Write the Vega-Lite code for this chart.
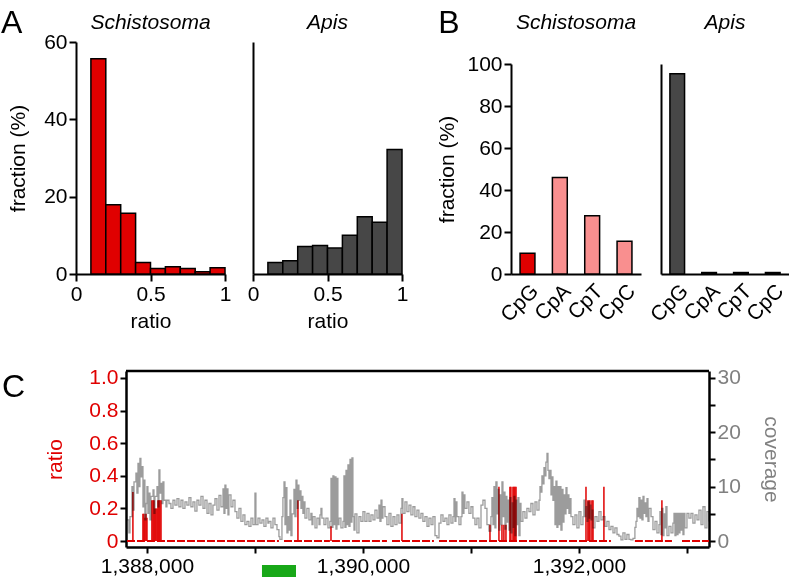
{
"$schema": "https://vega.github.io/schema/vega-lite/v6.json",
"padding": {"left": 1, "top": 6, "right": 0, "bottom": 0},
"config": {
  "font": "Liberation Sans",
  "view": {"stroke": null},
  "axis": {"labelFont": "Liberation Sans", "titleFont": "Liberation Sans", "labelFontSize": 21, "titleFontSize": 21, "titleFontWeight": "normal", "labelColor": "black", "titleColor": "black", "domainColor": "black", "tickColor": "black", "domainWidth": 2, "tickWidth": 2, "tickSize": 7, "labelPadding": 2, "grid": false, "labelFlush": false, "labelOverlap": false},
  "bar": {"stroke": "black", "strokeWidth": 1.5},
  "text": {"font": "Liberation Sans", "fontSize": 32, "color": "black", "align": "left", "baseline": "alphabetic"}
},
"vconcat": [
  {"hconcat": [
    {"hconcat": [
      {"width": 149, "height": 232,
       "layer": [
        {"data": {"values": [
          {"lo": 0.1, "hi": 0.2, "fraction": 55.7}, {"lo": 0.2, "hi": 0.3, "fraction": 17.9}, {"lo": 0.3, "hi": 0.4, "fraction": 15.7},
          {"lo": 0.4, "hi": 0.5, "fraction": 3.0}, {"lo": 0.5, "hi": 0.6, "fraction": 1.4}, {"lo": 0.6, "hi": 0.7, "fraction": 1.9},
          {"lo": 0.7, "hi": 0.8, "fraction": 1.4}, {"lo": 0.8, "hi": 0.9, "fraction": 0.6}, {"lo": 0.9, "hi": 1.0, "fraction": 1.6}]},
         "mark": {"type": "bar", "color": "#e00000"},
         "encoding": {
          "x": {"field": "lo", "type": "quantitative", "scale": {"domain": [0, 1], "nice": false}, "axis": {"values": [0, 0.5, 1], "format": "~g", "title": "ratio", "titlePadding": 6}},
          "x2": {"field": "hi"},
          "y": {"field": "fraction", "type": "quantitative", "scale": {"domain": [0, 60], "nice": false}, "axis": {"values": [0, 20, 40, 60], "title": "fraction (%)", "titlePadding": 15}},
          "y2": {"datum": 0}
         }},
        {"data": {"values": [{"panel": "A"}]},
         "mark": {"type": "text"},
         "encoding": {
          "text": {"field": "panel"},
          "x": {"datum": -0.503, "type": "quantitative"},
          "y": {"datum": 62.33, "type": "quantitative"}
         }},
        {"data": {"values": [{"species": "Schistosoma"}]},
         "mark": {"type": "text", "fontSize": 21, "fontStyle": "italic", "align": "center"},
         "encoding": {
          "text": {"field": "species"},
          "x": {"datum": 0.5, "type": "quantitative"},
          "y": {"datum": 63.36, "type": "quantitative"}
         }}
       ]},
      {"width": 149, "height": 232,
       "layer": [
        {"data": {"values": [
          {"lo": 0.1, "hi": 0.2, "fraction": 3.0}, {"lo": 0.2, "hi": 0.3, "fraction": 3.4}, {"lo": 0.3, "hi": 0.4, "fraction": 7.1},
          {"lo": 0.4, "hi": 0.5, "fraction": 7.4}, {"lo": 0.5, "hi": 0.6, "fraction": 6.7}, {"lo": 0.6, "hi": 0.7, "fraction": 10.0},
          {"lo": 0.7, "hi": 0.8, "fraction": 14.8}, {"lo": 0.8, "hi": 0.9, "fraction": 13.4}, {"lo": 0.9, "hi": 1.0, "fraction": 32.2}]},
         "mark": {"type": "bar", "color": "#474747"},
         "encoding": {
          "x": {"field": "lo", "type": "quantitative", "scale": {"domain": [0, 1], "nice": false}, "axis": {"values": [0, 0.5, 1], "format": "~g", "title": "ratio", "titlePadding": 6}},
          "x2": {"field": "hi"},
          "y": {"field": "fraction", "type": "quantitative", "scale": {"domain": [0, 60], "nice": false}, "axis": {"labels": false, "ticks": false, "title": null}},
          "y2": {"datum": 0}
         }},
        {"data": {"values": [{"species": "Apis"}]},
         "mark": {"type": "text", "fontSize": 21, "fontStyle": "italic", "align": "center"},
         "encoding": {
          "text": {"field": "species"},
          "x": {"datum": 0.5, "type": "quantitative"},
          "y": {"datum": 63.36, "type": "quantitative"}
         }}
       ]}
     ], "spacing": 16},
    {"hconcat": [
      {"width": 130, "height": 232,
       "layer": [
        {"data": {"values": [
          {"dinuc": "CpG", "fraction": 9.9}, {"dinuc": "CpA", "fraction": 46.0}, {"dinuc": "CpT", "fraction": 27.7}, {"dinuc": "CpC", "fraction": 15.6}]},
         "mark": {"type": "bar"},
         "encoding": {
          "x": {"field": "dinuc", "type": "nominal", "sort": ["CpG", "CpA", "CpT", "CpC"], "scale": {"paddingInner": 0.54, "paddingOuter": 0.28}, "axis": {"title": null, "labelAngle": -45, "ticks": false, "labelPadding": 6}},
          "y": {"field": "fraction", "type": "quantitative", "scale": {"domain": [0, 100], "range": [232, 22], "nice": false}, "axis": {"values": [0, 20, 40, 60, 80, 100], "title": "fraction (%)", "titlePadding": 9}},
          "color": {"field": "dinuc", "type": "nominal", "scale": {"domain": ["CpG", "CpA", "CpT", "CpC"], "range": ["#e00000", "#f98f8f", "#f98f8f", "#f98f8f"]}, "legend": null}
         }},
        {"data": {"values": [{"panel": "B"}]},
         "mark": {"type": "text"},
         "encoding": {
          "text": {"field": "panel"},
          "x": {"datum": -0.56, "type": "quantitative", "scale": {"domain": [0, 1], "nice": false, "zero": false}, "axis": null},
          "y": {"datum": 114.76, "type": "quantitative"}
         }},
        {"data": {"values": [{"species": "Schistosoma"}]},
         "mark": {"type": "text", "fontSize": 21, "fontStyle": "italic", "align": "center"},
         "encoding": {
          "text": {"field": "species"},
          "x": {"datum": 0.5, "type": "quantitative", "scale": {"domain": [0, 1], "nice": false, "zero": false}, "axis": null},
          "y": {"datum": 116.67, "type": "quantitative"}
         }}
       ],
       "resolve": {"scale": {"x": "independent"}}},
      {"width": 128, "height": 232,
       "layer": [
        {"data": {"values": [
          {"dinuc": "CpG", "fraction": 95.4}, {"dinuc": "CpA", "fraction": 0.7}, {"dinuc": "CpT", "fraction": 0.7}, {"dinuc": "CpC", "fraction": 0.7}]},
         "mark": {"type": "bar", "color": "#474747"},
         "encoding": {
          "x": {"field": "dinuc", "type": "nominal", "sort": ["CpG", "CpA", "CpT", "CpC"], "scale": {"paddingInner": 0.54, "paddingOuter": 0.28}, "axis": {"title": null, "labelAngle": -45, "ticks": false, "labelPadding": 6}},
          "y": {"field": "fraction", "type": "quantitative", "scale": {"domain": [0, 100], "range": [232, 22], "nice": false}, "axis": {"labels": false, "ticks": false, "title": null}}
         }},
        {"data": {"values": [{"species": "Apis"}]},
         "mark": {"type": "text", "fontSize": 21, "fontStyle": "italic", "align": "center"},
         "encoding": {
          "text": {"field": "species"},
          "x": {"datum": 0.5, "type": "quantitative", "scale": {"domain": [0, 1], "nice": false, "zero": false}, "axis": null},
          "y": {"datum": 116.67, "type": "quantitative"}
         }}
       ],
       "resolve": {"scale": {"x": "independent"}}}
     ], "spacing": 5}
  ], "spacing": 28},
  {"width": 633, "height": 176,
   "layer": [
       {"data": {"values": [
          {"start": 1387815, "end": 1389222}, {"start": 1389269, "end": 1389694}, {"start": 1389713, "end": 1390222},
          {"start": 1390269, "end": 1390657}, {"start": 1390704, "end": 1392296}, {"start": 1392518, "end": 1392861},
          {"start": 1392954, "end": 1393204}]},
        "mark": {"type": "rule", "color": "#e00000", "strokeWidth": 2, "strokeDash": [8, 2]},
        "encoding": {
          "x": {"field": "start", "type": "quantitative", "scale": {"domain": [1387806, 1393204], "range": [50, 633], "nice": false, "zero": false},
                "axis": {"values": [1388000, 1389000, 1390000, 1391000, 1392000, 1393000], "labelExpr": "datum.value % 2000 == 0 ? format(datum.value, ',') : ''", "title": null, "tickSize": 6, "domainWidth": 2.5}},
          "x2": {"field": "end"},
          "y": {"datum": 0, "type": "quantitative", "scale": {"domain": [-0.0368, 1.0429], "nice": false, "zero": false},
                "axis": {"values": [0, 0.2, 0.4, 0.6, 0.8, 1], "labelExpr": "datum.value == 0 ? '0' : format(datum.value, '.1f')", "labelColor": "#e00000", "title": "ratio", "titleColor": "#e00000", "offset": -50, "titlePadding": 23, "tickSize": 6, "domainWidth": 2.5}}
        }},
       {"data": {"values": [
          {"pos": 1387870, "ratio": 0.30},
          {"pos": 1387963, "ratio": 0.167}, {"pos": 1387972, "ratio": 0.167}, {"pos": 1387981, "ratio": 0.143}, {"pos": 1387991, "ratio": 0.167}, {"pos": 1388000, "ratio": 0.143},
          {"pos": 1388046, "ratio": 0.25}, {"pos": 1388056, "ratio": 0.25}, {"pos": 1388065, "ratio": 0.25}, {"pos": 1388074, "ratio": 0.2}, {"pos": 1388083, "ratio": 0.2},
          {"pos": 1388093, "ratio": 0.2}, {"pos": 1388102, "ratio": 0.25}, {"pos": 1388111, "ratio": 0.25}, {"pos": 1388120, "ratio": 0.25}, {"pos": 1388130, "ratio": 0.25},
          {"pos": 1389398, "ratio": 0.25},
          {"pos": 1389704, "ratio": 0.09},
          {"pos": 1390361, "ratio": 0.167},
          {"pos": 1391176, "ratio": 0.1},
          {"pos": 1391259, "ratio": 0.333},
          {"pos": 1391287, "ratio": 0.1}, {"pos": 1391305, "ratio": 0.1}, {"pos": 1391324, "ratio": 0.1},
          {"pos": 1391361, "ratio": 0.333}, {"pos": 1391370, "ratio": 0.333}, {"pos": 1391389, "ratio": 0.333}, {"pos": 1391398, "ratio": 0.333}, {"pos": 1391407, "ratio": 0.333}, {"pos": 1391417, "ratio": 0.333},
          {"pos": 1392065, "ratio": 0.333},
          {"pos": 1392083, "ratio": 0.25}, {"pos": 1392093, "ratio": 0.25}, {"pos": 1392102, "ratio": 0.25}, {"pos": 1392120, "ratio": 0.25}, {"pos": 1392130, "ratio": 0.25},
          {"pos": 1392231, "ratio": 0.333},
          {"pos": 1392768, "ratio": 0.25}]},
        "mark": {"type": "rule", "color": "#e00000", "strokeWidth": 1.5},
        "encoding": {
          "x": {"field": "pos", "type": "quantitative"},
          "y": {"field": "ratio", "type": "quantitative", "scale": {"domain": [-0.0368, 1.0429], "nice": false, "zero": false}, "axis": null},
          "y2": {"datum": 0}
        }},
       {"data": {"values": [{"start": 1389065, "end": 1389380, "lo": -0.221, "hi": -0.147}]},
        "mark": {"type": "rect", "color": "#18a818", "clip": false},
        "encoding": {
          "x": {"field": "start", "type": "quantitative"},
          "x2": {"field": "end"},
          "y": {"field": "hi", "type": "quantitative", "scale": {"domain": [-0.0368, 1.0429], "nice": false, "zero": false}, "axis": null},
          "y2": {"field": "lo"}
        }},
       {"data": {"values": [{"start": 1387806, "end": 1393204, "top": 1.0429}]},
        "mark": {"type": "rule", "color": "black", "strokeWidth": 2.5},
        "encoding": {
          "x": {"field": "start", "type": "quantitative"},
          "x2": {"field": "end"},
          "y": {"field": "top", "type": "quantitative", "scale": {"domain": [-0.0368, 1.0429], "nice": false, "zero": false}, "axis": null}
        }},
       {"data": {"values": [{"panel": "C"}]},
        "mark": {"type": "text"},
        "encoding": {
          "text": {"field": "panel"},
          "x": {"datum": 1386658, "type": "quantitative"},
          "y": {"datum": 0.8834, "type": "quantitative", "scale": {"domain": [-0.0368, 1.0429], "nice": false, "zero": false}, "axis": null}
        }},
     {"data": {"values": [
        {"pos":1387815,"cov":3.9},{"pos":1387833,"cov":1.5},{"pos":1387843,"cov":4.5},{"pos":1387861,"cov":10.0},{"pos":1387870,"cov":5.7},{"pos":1387880,"cov":10.9},{"pos":1387898,"cov":12.5},{"pos":1387907,"cov":8.8},{"pos":1387917,"cov":14.3},{"pos":1387926,"cov":10.0},{"pos":1387935,"cov":15.2},{"pos":1387944,"cov":11.8},{"pos":1387954,"cov":13.7},{"pos":1387963,"cov":6.3},{"pos":1387972,"cov":11.2},{"pos":1387981,"cov":3.9},{"pos":1387991,"cov":6.9},
        {"pos":1388000,"cov":10.0},{"pos":1388009,"cov":5.1},{"pos":1388019,"cov":8.8},{"pos":1388028,"cov":3.9},{"pos":1388037,"cov":8.2},{"pos":1388056,"cov":9.4},{"pos":1388065,"cov":5.1},{"pos":1388074,"cov":8.2},{"pos":1388093,"cov":10.0},{"pos":1388102,"cov":6.3},{"pos":1388111,"cov":13.1},{"pos":1388120,"cov":8.8},{"pos":1388130,"cov":10.6},{"pos":1388139,"cov":6.9},{"pos":1388148,"cov":10.9},{"pos":1388157,"cov":7.5},{"pos":1388176,"cov":6.3},{"pos":1388185,"cov":7.5},
        {"pos":1388204,"cov":6.9},{"pos":1388222,"cov":6.0},{"pos":1388241,"cov":7.5},{"pos":1388259,"cov":6.6},{"pos":1388278,"cov":7.8},{"pos":1388296,"cov":6.3},{"pos":1388315,"cov":7.5},{"pos":1388333,"cov":6.0},{"pos":1388352,"cov":7.2},{"pos":1388370,"cov":6.6},{"pos":1388389,"cov":8.0},{"pos":1388407,"cov":6.3},{"pos":1388426,"cov":7.2},{"pos":1388444,"cov":5.5},{"pos":1388463,"cov":7.5},{"pos":1388481,"cov":6.6},
        {"pos":1388500,"cov":8.2},{"pos":1388519,"cov":6.0},{"pos":1388537,"cov":7.5},{"pos":1388556,"cov":5.1},{"pos":1388574,"cov":6.9},{"pos":1388593,"cov":4.8},{"pos":1388611,"cov":6.6},{"pos":1388630,"cov":7.8},{"pos":1388648,"cov":5.7},{"pos":1388667,"cov":8.4},{"pos":1388685,"cov":6.3},{"pos":1388704,"cov":9.6},{"pos":1388713,"cov":5.1},{"pos":1388722,"cov":10.3},{"pos":1388731,"cov":6.0},{"pos":1388741,"cov":9.6},{"pos":1388750,"cov":4.8},{"pos":1388759,"cov":8.5},
        {"pos":1388778,"cov":6.3},{"pos":1388796,"cov":7.5},{"pos":1388815,"cov":5.4},{"pos":1388833,"cov":4.2},{"pos":1388852,"cov":6.0},{"pos":1388870,"cov":3.6},{"pos":1388889,"cov":4.8},{"pos":1388907,"cov":3.0},{"pos":1388926,"cov":3.6},{"pos":1388944,"cov":2.7},{"pos":1388963,"cov":4.2},{"pos":1388981,"cov":3.0},
        {"pos":1389000,"cov":8.8},{"pos":1389009,"cov":3.0},{"pos":1389028,"cov":4.2},{"pos":1389046,"cov":3.3},{"pos":1389065,"cov":3.9},{"pos":1389083,"cov":2.7},{"pos":1389102,"cov":4.2},{"pos":1389120,"cov":3.3},{"pos":1389130,"cov":3.6},{"pos":1389148,"cov":2.4},{"pos":1389167,"cov":4.2},{"pos":1389185,"cov":3.0},{"pos":1389204,"cov":2.1},{"pos":1389222,"cov":0.8},{"pos":1389231,"cov":0.3},{"pos":1389250,"cov":4.5},{"pos":1389259,"cov":8.0},{"pos":1389269,"cov":10.9},{"pos":1389278,"cov":3.0},{"pos":1389287,"cov":9.8},{"pos":1389296,"cov":1.5},
        {"pos":1389306,"cov":4.5},{"pos":1389315,"cov":2.0},{"pos":1389324,"cov":7.5},{"pos":1389333,"cov":1.0},{"pos":1389343,"cov":5.0},{"pos":1389361,"cov":9.5},{"pos":1389370,"cov":4.5},{"pos":1389380,"cov":11.2},{"pos":1389389,"cov":6.0},{"pos":1389398,"cov":10.3},{"pos":1389407,"cov":7.5},{"pos":1389417,"cov":9.2},{"pos":1389426,"cov":6.0},{"pos":1389435,"cov":8.2},{"pos":1389444,"cov":5.1},{"pos":1389454,"cov":7.2},{"pos":1389463,"cov":4.2},{"pos":1389481,"cov":6.0},
        {"pos":1389500,"cov":3.9},{"pos":1389518,"cov":5.1},{"pos":1389528,"cov":3.0},{"pos":1389537,"cov":4.5},{"pos":1389556,"cov":2.4},{"pos":1389574,"cov":4.2},{"pos":1389593,"cov":3.0},{"pos":1389602,"cov":4.8},{"pos":1389611,"cov":6.0},{"pos":1389620,"cov":4.2},{"pos":1389639,"cov":3.0},{"pos":1389657,"cov":4.2},{"pos":1389676,"cov":2.4},{"pos":1389694,"cov":3.6},
        {"pos":1389704,"cov":11.5},{"pos":1389713,"cov":2.5},{"pos":1389722,"cov":12.0},{"pos":1389731,"cov":3.0},{"pos":1389741,"cov":11.8},{"pos":1389750,"cov":2.2},{"pos":1389759,"cov":11.5},{"pos":1389768,"cov":3.0},{"pos":1389778,"cov":4.2},{"pos":1389796,"cov":2.4},{"pos":1389815,"cov":3.6},{"pos":1389824,"cov":12.0},{"pos":1389833,"cov":2.5},{"pos":1389843,"cov":13.0},{"pos":1389852,"cov":3.0},{"pos":1389861,"cov":14.0},{"pos":1389870,"cov":2.7},{"pos":1389880,"cov":15.0},{"pos":1389889,"cov":3.5},{"pos":1389898,"cov":15.3},{"pos":1389907,"cov":4.5},{"pos":1389917,"cov":2.0},{"pos":1389926,"cov":5.0},{"pos":1389944,"cov":1.5},{"pos":1389963,"cov":4.5},{"pos":1389981,"cov":3.6},
        {"pos":1390000,"cov":5.4},{"pos":1390018,"cov":3.6},{"pos":1390037,"cov":5.1},{"pos":1390056,"cov":3.6},{"pos":1390074,"cov":4.8},{"pos":1390093,"cov":3.9},{"pos":1390111,"cov":5.7},{"pos":1390130,"cov":4.2},{"pos":1390148,"cov":6.6},{"pos":1390157,"cov":3.6},{"pos":1390167,"cov":7.5},{"pos":1390176,"cov":4.2},{"pos":1390185,"cov":6.3},{"pos":1390204,"cov":4.5},{"pos":1390222,"cov":3.0},{"pos":1390241,"cov":5.1},{"pos":1390259,"cov":2.7},{"pos":1390278,"cov":4.5},{"pos":1390296,"cov":3.0},{"pos":1390315,"cov":4.8},{"pos":1390333,"cov":3.3},{"pos":1390352,"cov":6.0},{"pos":1390361,"cov":7.8},{"pos":1390370,"cov":5.1},{"pos":1390389,"cov":7.2},{"pos":1390407,"cov":5.4},{"pos":1390426,"cov":6.6},{"pos":1390444,"cov":4.8},{"pos":1390463,"cov":6.3},{"pos":1390481,"cov":4.5},
        {"pos":1390500,"cov":5.7},{"pos":1390518,"cov":4.2},{"pos":1390537,"cov":5.1},{"pos":1390555,"cov":3.6},{"pos":1390574,"cov":4.5},{"pos":1390593,"cov":2.7},{"pos":1390611,"cov":4.2},{"pos":1390630,"cov":3.0},{"pos":1390648,"cov":4.5},{"pos":1390667,"cov":1.0},{"pos":1390685,"cov":0.6},{"pos":1390704,"cov":3.3},{"pos":1390722,"cov":4.8},{"pos":1390741,"cov":3.6},{"pos":1390759,"cov":4.2},{"pos":1390778,"cov":3.0},{"pos":1390796,"cov":4.8},{"pos":1390815,"cov":3.3},{"pos":1390833,"cov":4.5},{"pos":1390843,"cov":7.8},{"pos":1390852,"cov":3.6},{"pos":1390861,"cov":7.2},{"pos":1390870,"cov":4.5},{"pos":1390889,"cov":3.0},{"pos":1390907,"cov":4.5},{"pos":1390917,"cov":9.0},{"pos":1390926,"cov":5.1},{"pos":1390935,"cov":8.5},{"pos":1390944,"cov":6.0},{"pos":1390963,"cov":7.2},{"pos":1390981,"cov":5.1},
        {"pos":1391000,"cov":6.3},{"pos":1391018,"cov":4.2},{"pos":1391037,"cov":3.0},{"pos":1391055,"cov":4.2},{"pos":1391074,"cov":2.4},{"pos":1391093,"cov":6.6},{"pos":1391111,"cov":7.5},{"pos":1391130,"cov":6.0},{"pos":1391148,"cov":3.0},{"pos":1391167,"cov":1.8},{"pos":1391185,"cov":4.5},{"pos":1391194,"cov":8.0},{"pos":1391204,"cov":3.0},{"pos":1391213,"cov":10.0},{"pos":1391222,"cov":2.4},{"pos":1391231,"cov":10.9},{"pos":1391241,"cov":5.0},{"pos":1391250,"cov":9.5},{"pos":1391259,"cov":2.0},{"pos":1391268,"cov":8.5},{"pos":1391278,"cov":3.0},{"pos":1391287,"cov":10.9},{"pos":1391296,"cov":4.5},{"pos":1391305,"cov":9.0},{"pos":1391315,"cov":2.2},{"pos":1391324,"cov":8.2},{"pos":1391333,"cov":3.5},{"pos":1391342,"cov":7.5},{"pos":1391352,"cov":2.0},{"pos":1391361,"cov":8.0},{"pos":1391370,"cov":1.5},{"pos":1391380,"cov":7.0},{"pos":1391389,"cov":2.5},{"pos":1391398,"cov":8.2},{"pos":1391407,"cov":1.0},{"pos":1391417,"cov":7.5},{"pos":1391426,"cov":3.0},{"pos":1391435,"cov":8.0},{"pos":1391444,"cov":1.0},{"pos":1391454,"cov":6.9},{"pos":1391463,"cov":3.6},{"pos":1391481,"cov":5.4},
        {"pos":1391500,"cov":4.2},{"pos":1391518,"cov":6.0},{"pos":1391537,"cov":5.4},{"pos":1391555,"cov":6.9},{"pos":1391574,"cov":4.8},{"pos":1391593,"cov":7.2},{"pos":1391611,"cov":5.7},{"pos":1391630,"cov":7.5},{"pos":1391639,"cov":10.0},{"pos":1391648,"cov":9.0},{"pos":1391657,"cov":12.0},{"pos":1391667,"cov":10.5},{"pos":1391676,"cov":13.5},{"pos":1391685,"cov":12.0},{"pos":1391694,"cov":14.5},{"pos":1391704,"cov":16.1},{"pos":1391713,"cov":13.0},{"pos":1391722,"cov":11.5},{"pos":1391731,"cov":13.0},{"pos":1391741,"cov":8.5},{"pos":1391750,"cov":11.8},{"pos":1391759,"cov":7.5},{"pos":1391768,"cov":10.0},{"pos":1391778,"cov":3.0},{"pos":1391787,"cov":11.0},{"pos":1391796,"cov":2.5},{"pos":1391805,"cov":10.0},{"pos":1391815,"cov":3.0},{"pos":1391824,"cov":10.0},{"pos":1391833,"cov":2.0},{"pos":1391843,"cov":9.5},{"pos":1391852,"cov":3.5},{"pos":1391861,"cov":8.5},{"pos":1391870,"cov":5.0},{"pos":1391880,"cov":9.8},{"pos":1391889,"cov":6.0},{"pos":1391898,"cov":8.5},{"pos":1391907,"cov":5.1},{"pos":1391917,"cov":7.8},{"pos":1391926,"cov":4.5},{"pos":1391944,"cov":3.0},{"pos":1391963,"cov":4.8},{"pos":1391981,"cov":2.4},
        {"pos":1392000,"cov":5.4},{"pos":1392018,"cov":3.0},{"pos":1392037,"cov":4.5},{"pos":1392046,"cov":7.5},{"pos":1392055,"cov":4.5},{"pos":1392065,"cov":6.3},{"pos":1392074,"cov":3.6},{"pos":1392083,"cov":7.2},{"pos":1392093,"cov":4.2},{"pos":1392102,"cov":6.6},{"pos":1392111,"cov":3.9},{"pos":1392120,"cov":5.7},{"pos":1392130,"cov":2.4},{"pos":1392148,"cov":4.5},{"pos":1392167,"cov":3.6},{"pos":1392185,"cov":5.4},{"pos":1392204,"cov":3.9},{"pos":1392222,"cov":4.5},{"pos":1392241,"cov":2.7},{"pos":1392259,"cov":3.6},{"pos":1392278,"cov":2.1},{"pos":1392296,"cov":2.7},{"pos":1392315,"cov":1.5},{"pos":1392333,"cov":2.4},{"pos":1392352,"cov":1.2},{"pos":1392370,"cov":0.9},{"pos":1392389,"cov":0.2},{"pos":1392407,"cov":1.5},{"pos":1392426,"cov":0.3},{"pos":1392444,"cov":1.2},{"pos":1392463,"cov":0.3},{"pos":1392481,"cov":0.2},
        {"pos":1392500,"cov":0.5},{"pos":1392518,"cov":2.5},{"pos":1392528,"cov":3.6},{"pos":1392537,"cov":6.0},{"pos":1392546,"cov":4.5},{"pos":1392555,"cov":8.0},{"pos":1392565,"cov":4.2},{"pos":1392574,"cov":7.5},{"pos":1392583,"cov":3.9},{"pos":1392593,"cov":8.2},{"pos":1392602,"cov":5.1},{"pos":1392611,"cov":7.0},{"pos":1392620,"cov":4.5},{"pos":1392630,"cov":7.8},{"pos":1392639,"cov":3.6},{"pos":1392648,"cov":6.0},{"pos":1392667,"cov":4.5},{"pos":1392685,"cov":2.1},{"pos":1392704,"cov":3.6},{"pos":1392722,"cov":1.5},{"pos":1392741,"cov":3.0},{"pos":1392750,"cov":5.4},{"pos":1392759,"cov":1.2},{"pos":1392768,"cov":6.0},{"pos":1392778,"cov":1.0},{"pos":1392787,"cov":5.0},{"pos":1392796,"cov":2.4},{"pos":1392805,"cov":6.3},{"pos":1392815,"cov":1.0},{"pos":1392833,"cov":2.7},{"pos":1392852,"cov":1.5},{"pos":1392870,"cov":3.3},{"pos":1392880,"cov":5.1},{"pos":1392889,"cov":1.0},{"pos":1392898,"cov":5.1},{"pos":1392907,"cov":1.2},{"pos":1392917,"cov":5.1},{"pos":1392926,"cov":1.5},{"pos":1392935,"cov":5.1},{"pos":1392944,"cov":2.0},{"pos":1392954,"cov":5.1},{"pos":1392963,"cov":1.2},{"pos":1392972,"cov":5.1},{"pos":1392981,"cov":2.4},
        {"pos":1393000,"cov":5.1},{"pos":1393018,"cov":4.2},{"pos":1393037,"cov":5.1},{"pos":1393055,"cov":3.3},{"pos":1393074,"cov":4.8},{"pos":1393093,"cov":3.9},{"pos":1393111,"cov":5.7},{"pos":1393130,"cov":3.0},{"pos":1393148,"cov":6.3},{"pos":1393167,"cov":2.4},{"pos":1393185,"cov":5.4},{"pos":1393204,"cov":3.6}]},
      "mark": {"type": "line", "interpolate": "step-after", "color": "#9c9c9c", "strokeWidth": 1.3, "blend": "multiply"},
      "encoding": {
        "x": {"field": "pos", "type": "quantitative"},
        "y": {"field": "cov", "type": "quantitative", "scale": {"domain": [-1.104, 31.287], "nice": false, "zero": false},
              "axis": {"orient": "right", "values": [0, 5, 10, 15, 20, 25, 30], "labelExpr": "datum.value % 10 == 0 ? datum.label : ''", "labelColor": "#808080", "title": "coverage", "titleColor": "#808080", "tickSize": 6, "domainWidth": 2.5, "titlePadding": 20}}
      }}
   ],
   "resolve": {"scale": {"y": "independent"}}
  }
],
"spacing": 35
}
